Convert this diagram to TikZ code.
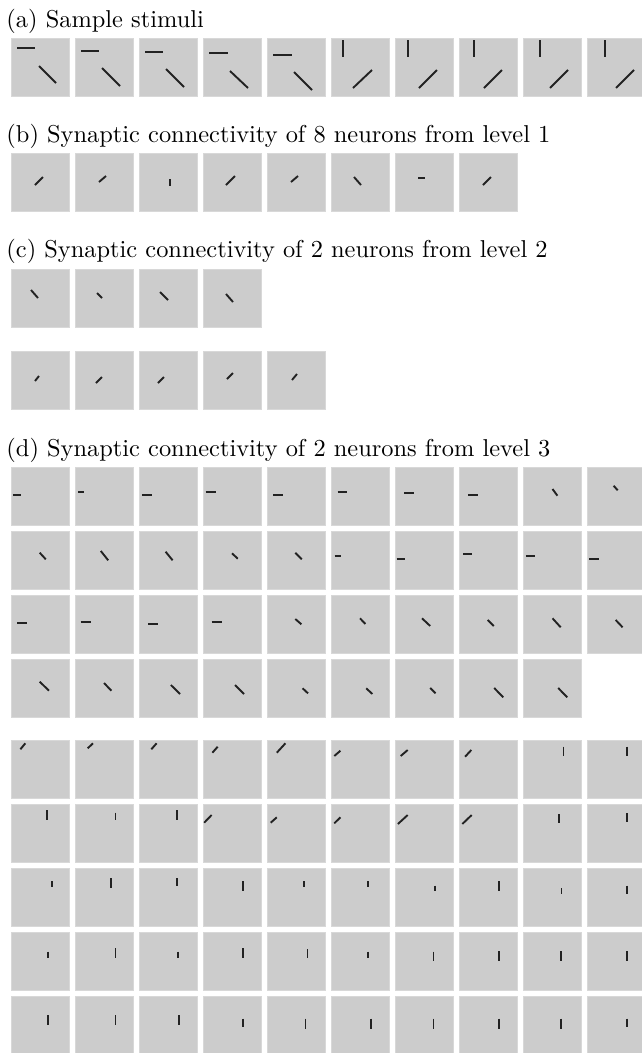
\documentclass[tikz,border=0pt]{standalone}
\usepackage{tikz}
\definecolor{cellgray}{HTML}{CCCCCC}
\definecolor{cellrim}{HTML}{D8D8D8}
\definecolor{ink}{HTML}{222222}
\tikzset{
  cellbg/.style={fill=cellgray, draw=cellrim, line width=0.8pt},
  seg/.style={draw=ink, line width=1.9pt},
  title/.style={inner sep=0pt, anchor=base west, scale=2.44, font=\fontsize{10}{12}\selectfont},
}
\begin{document}
\begin{tikzpicture}[x=1pt,y=-1pt]
\useasboundingbox (0,0) rectangle (642,1053);
% titles
\node[title] (ta) at (6,27) {(a) Sample stimuli};
\node[title] (tb) at (6,142) {(b) Synaptic connectivity of 8 neurons from level 1};
\node[title] (tc) at (6,257) {(c) Synaptic connectivity of 2 neurons from level 2};
\node[title] (td) at (6,456) {(d) Synaptic connectivity of 2 neurons from level 3};
% (a) squares
\foreach \c in {0,...,9} \draw[cellbg] ({11+64*\c},38) rectangle ++(58,58);
\foreach \c/\xa/\ya/\xb/\yb in {
 0/6/10/24/10, 0/28/28/45/45,
 1/6/13/24/13, 1/27/30/45/48,
 2/6/14/24/14, 2/27/31/45/49,
 3/6/15/25/15, 3/27/33/45/50,
 4/6/17/25/17, 4/27/34/45/52,
 5/12/2/12/19, 5/22/50/41/32,
 6/13/2/13/19, 6/24/50/42/32,
 7/15/2/15/19, 7/25/50/43/32,
 8/17/2/17/19, 8/27/50/45/32,
 9/18/2/18/19, 9/29/50/47/32}
 \draw[seg] ({11+64*\c+\xa},{38+\ya}) -- ({11+64*\c+\xb},{38+\yb});
% (b)
\foreach \c in {0,...,7} \draw[cellbg] ({11+64*\c},153) rectangle ++(58,58);
\foreach \c/\xa/\ya/\xb/\yb in {
 0/24/32/32/24, 1/24/29/31/23, 2/31/26/31/33, 3/23/32/32/23,
 4/24/29/31/23, 5/23/24/30/32, 6/23/25/30/25, 7/24/32/32/24}
 \draw[seg] ({11+64*\c+\xa},{153+\ya}) -- ({11+64*\c+\xb},{153+\yb});
% (c)
\foreach \c in {0,...,3} \draw[cellbg] ({11+64*\c},269) rectangle ++(58,58);
\foreach \c in {0,...,4} \draw[cellbg] ({11+64*\c},351) rectangle ++(58,58);
\foreach \c/\xa/\ya/\xb/\yb in {
 0/20/21/27/29, 1/22/24/27/29, 2/21/23/29/31, 3/23/25/30/33}
 \draw[seg] ({11+64*\c+\xa},{269+\ya}) -- ({11+64*\c+\xb},{269+\yb});
\foreach \c/\xa/\ya/\xb/\yb in {
 0/24/30/28/25, 1/21/32/27/26, 2/19/32/25/26, 3/24/28/30/22, 4/25/29/30/23}
 \draw[seg] ({11+64*\c+\xa},{351+\ya}) -- ({11+64*\c+\xb},{351+\yb});
% (d) squares
\foreach \r in {467,531,595,740,804,868,932,996}
  \foreach \c in {0,...,9} \draw[cellbg] ({11+64*\c},\r) rectangle ++(58,58);
\foreach \c in {0,...,8} \draw[cellbg] ({11+64*\c},659) rectangle ++(58,58);
% (d) segments: row/col/x1/y1/x2/y2
\foreach \r/\c/\xa/\ya/\xb/\yb in {
 467/0/2/28/9.5/28, 467/1/3.3/25.3/9.4/25.3, 467/2/2.9/27.7/13/27.7,
 467/3/2.5/25.3/12.7/25.3, 467/4/6/27.7/16/27.7, 467/5/6.6/25.3/16/25.3,
 467/6/9/26/18.8/26, 467/7/9.4/27.7/18.8/27.7, 467/8/29.5/22/34.4/28.7,
 467/9/26.6/18.7/30.7/23.3,
 531/0/28.7/21.7/34.8/28.3, 531/1/25.8/20/33.2/29.3, 531/2/26.6/20.7/33.6/29.3,
 531/3/29/22.3/34.8/27.7, 531/4/28.3/21.7/34.8/28.3, 531/5/3.7/25/9.8/25,
 531/6/1.6/27.7/9.8/27.7, 531/7/4/22.7/12.7/22.7, 531/8/2.9/25/12.3/25,
 531/9/2/27.7/12.3/27.7,
 595/0/6.1/28.3/16.4/28.3, 595/1/5.7/27/15.6/27, 595/2/9/28.7/19.2/28.7,
 595/3/8.6/27/18.8/27, 595/4/28.3/24/34.4/29.3, 595/5/29/23.3/34.4/29,
 595/6/27/23.3/35.2/31, 595/7/28.7/25/34.8/31, 595/8/29.5/23.3/37.7/32.3,
 595/9/28.7/25/35.6/32.3,
 659/0/28.7/22.7/38/31.7, 659/1/29/24/36.4/31.7, 659/2/31.9/26/41/35,
 659/3/32/26/41/35, 659/4/35.6/29.3/41/34.3, 659/5/35.2/29.3/41.4/35,
 659/6/35.2/29/40.5/34.3, 659/7/35.2/29/44.2/38.3, 659/8/35.2/29/44.2/38.3,
 740/0/9.4/9.3/14.3/3.3, 740/1/12.7/8.3/18/3.3, 740/2/12.3/9.3/17.6/3.3,
 740/3/9.4/12.7/14.7/6.7, 740/4/9.8/12.7/18.4/3.3, 740/5/3.3/16/9.4/10.7,
 740/6/5.7/16/12.7/10, 740/7/6.1/16.7/12.3/10, 740/8/40.5/6.7/40.5/16,
 740/9/40.1/6.7/40.1/16,
 804/0/36/6/36/16, 804/1/40.5/8.7/40.5/16, 804/2/37.7/6/37.7/16,
 804/3/1.2/18.7/8.6/11, 804/4/3.7/18.7/9.8/13.3, 804/5/3.3/19.3/9.4/13.3,
 804/6/2.9/20/12.7/11, 804/7/3.3/20/12.7/11, 804/8/35.6/10/35.6/19.3,
 804/9/40.1/9.3/40.1/17.7,
 868/0/41/13.3/41/19.3, 868/1/36/10/36/20, 868/2/37.7/10/37.7/17.7,
 868/3/40.1/13.3/40.1/22.7, 868/4/36.8/13.3/36.8/19.3, 868/5/37.3/13.3/37.3/19.3,
 868/6/39.7/17.7/39.7/22.7, 868/7/40.1/13.3/40.1/22.7, 868/8/38.5/20/38.5/26,
 868/9/40.1/17.7/40.1/26,
 932/0/37.3/19.7/37.3/25.7, 932/1/40.5/16.3/40.5/25.7, 932/2/38.9/19.7/38.9/25.7,
 932/3/40.1/16.3/40.1/25.7, 932/4/40.5/17.3/40.5/25.7, 932/5/37.3/19.7/37.3/25.7,
 932/6/38.5/19.7/38.5/29, 932/7/40.1/19/40.1/29, 932/8/37.7/19/37.7/29,
 932/9/40.1/19/40.1/29,
 996/0/37.3/19.3/37.3/29.3, 996/1/40.5/19.3/40.5/29.3, 996/2/40.1/19.3/40.1/29.3,
 996/3/40.1/22.7/40.1/30.7, 996/4/38.5/22.7/38.5/32.7, 996/5/40.1/22.7/40.1/32.7,
 996/6/38.5/22.7/38.5/32.7, 996/7/40.1/22.7/40.1/32.7, 996/8/37.7/22.7/37.7/32.7,
 996/9/40.1/22.7/40.1/30.7}
 \draw[seg] ({11+64*\c+\xa},{\r+\ya}) -- ({11+64*\c+\xb},{\r+\yb});
\end{tikzpicture}
\end{document}
